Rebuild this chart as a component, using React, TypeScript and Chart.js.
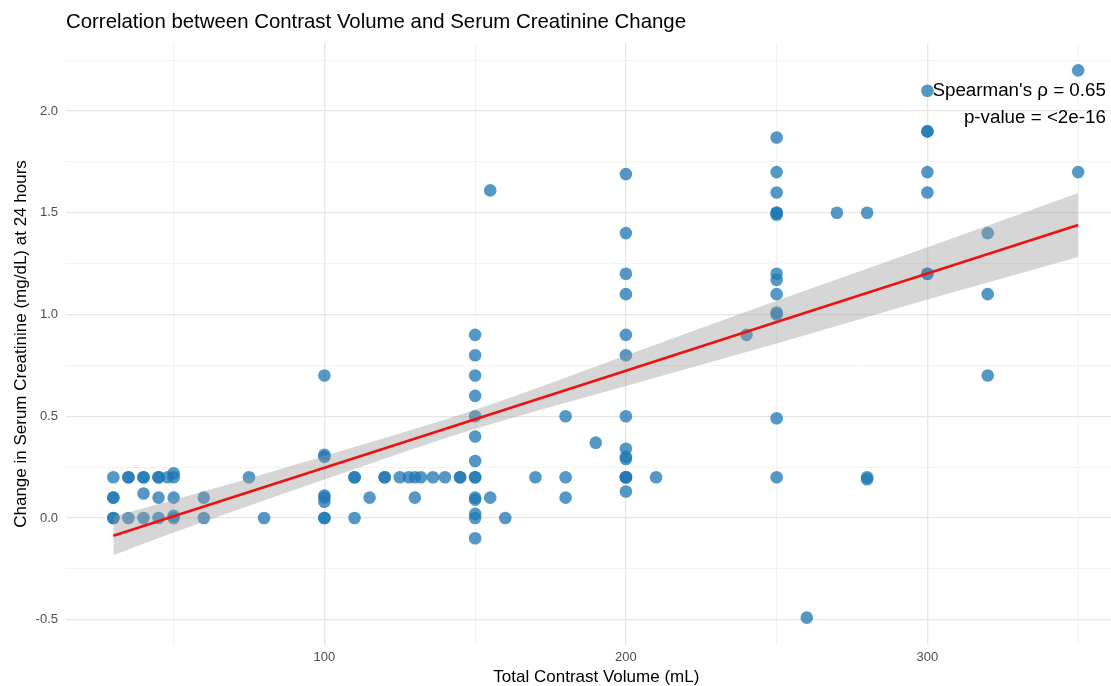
import React, { useEffect, useRef } from "react";
import { Chart, registerables } from "chart.js";

Chart.register(...registerables);

const titleText = "Correlation between Contrast Volume and Serum Creatinine Change";
const xAxisTitle = "Total Contrast Volume (mL)";
const yAxisTitle = "Change in Serum Creatinine (mg/dL) at 24 hours";

const contrastVolume = [
  30, 30, 30, 30, 30,
  35, 35, 35,
  40, 40, 40, 40,
  45, 45, 45, 45,
  48,
  50, 50, 50, 50, 50,
  60, 60,
  75,
  80,
  100, 100, 100, 100, 100, 100, 100, 100,
  110, 110, 110,
  115,
  120, 120,
  125,
  128,
  130, 130,
  132,
  136,
  140,
  145, 145,
  150, 150, 150, 150, 150, 150, 150, 150, 150, 150, 150, 150, 150, 150,
  155, 155,
  160,
  170,
  180, 180, 180,
  190,
  200, 200, 200, 200, 200, 200, 200, 200, 200, 200, 200, 200, 200, 200,
  210,
  240,
  250, 250, 250, 250, 250, 250, 250, 250, 250, 250, 250, 250, 250,
  260,
  270,
  280, 280, 280,
  300, 300, 300, 300, 300, 300, 300,
  320, 320, 320,
  350, 350,
];

const creatinineChange = [
  0.2, 0.1, 0.1, 0.0, 0.0,
  0.2, 0.2, 0.0,
  0.2, 0.2, 0.12, 0.0,
  0.2, 0.2, 0.1, 0.0,
  0.2,
  0.22, 0.2, 0.1, 0.01, 0.0,
  0.1, 0.0,
  0.2,
  0.0,
  0.7, 0.31, 0.3, 0.11, 0.1, 0.08, 0.0, 0.0,
  0.2, 0.2, 0.0,
  0.1,
  0.2, 0.2,
  0.2,
  0.2,
  0.2, 0.1,
  0.2,
  0.2,
  0.2,
  0.2, 0.2,
  0.9, 0.8, 0.7, 0.6, 0.5, 0.4, 0.28, 0.2, 0.2, 0.1, 0.09, 0.02, 0.0, -0.1,
  1.61, 0.1,
  0.0,
  0.2,
  0.5, 0.2, 0.1,
  0.37,
  1.69, 1.4, 1.2, 1.1, 0.9, 0.8, 0.5, 0.34, 0.3, 0.29, 0.2, 0.2, 0.2, 0.13,
  0.2,
  0.9,
  1.87, 1.7, 1.6, 1.5, 1.5, 1.49, 1.2, 1.17, 1.1, 1.01, 1.0, 0.49, 0.2,
  -0.49,
  1.5,
  1.5, 0.2, 0.19,
  2.1, 1.9, 1.9, 1.7, 1.6, 1.2, 1.2,
  1.4, 1.1, 0.7,
  2.2, 1.7,
];

const fitVolume = [30, 50, 100, 150, 200, 250, 300, 350];
const fitValue = [-0.088, 0.008, 0.247, 0.485, 0.724, 0.963, 1.202, 1.44];
const bandUpper = [0.007, 0.088, 0.305, 0.532, 0.799, 1.068, 1.33, 1.597];
const bandLower = [-0.183, -0.072, 0.189, 0.438, 0.649, 0.858, 1.074, 1.283];

const xTickValues = [50, 100, 150, 200, 250, 300, 350];
const xTickLabels = ["", "100", "", "200", "", "300", ""];
const yTickValues = [-0.5, -0.25, 0, 0.25, 0.5, 0.75, 1, 1.25, 1.5, 1.75, 2, 2.25];
const yTickLabels = ["-0.5", "", "0.0", "", "0.5", "", "1.0", "", "1.5", "", "2.0", ""];

const annotationLines = ["Spearman's \u03c1 = 0.65", "p-value = <2e-16"];
const annotationX = 359.2;
const annotationY = [2.098, 1.966];

const X_MIN = 14.3;
const X_MAX = 366.1;
const Y_MIN = -0.6245;
const Y_MAX = 2.3345;

const FONT = '"Liberation Sans", Arial, Helvetica, sans-serif';

const textPlugin = {
  id: "textPlugin",
  afterDraw(chart: any) {
    const { ctx, scales } = chart;
    const xs = scales.x;
    const ys = scales.y;
    ctx.save();
    ctx.fillStyle = "#000000";
    ctx.textBaseline = "middle";
    ctx.textAlign = "left";
    ctx.font = `20.4px ${FONT}`;
    ctx.fillText(titleText, chart.chartArea.left, 22);
    ctx.font = `18.8px ${FONT}`;
    ctx.textAlign = "right";
    annotationLines.forEach((t, i) => {
      ctx.fillText(t, xs.getPixelForValue(annotationX), ys.getPixelForValue(annotationY[i]));
    });
    ctx.restore();
  },
};

function isMajor(v: number, step: number) {
  const r = v / step;
  return Math.abs(r - Math.round(r)) < 1e-6;
}

export default function App() {
  const canvasRef = useRef<HTMLCanvasElement | null>(null);

  useEffect(() => {
    document.body.style.margin = "0";
    const canvas = canvasRef.current;
    if (!canvas) return;
    const points = contrastVolume.map((v, i) => ({ x: v, y: creatinineChange[i] }));
    const fit = fitVolume.map((v, i) => ({ x: v, y: fitValue[i] }));
    const upper = fitVolume.map((v, i) => ({ x: v, y: bandUpper[i] }));
    const lower = fitVolume.map((v, i) => ({ x: v, y: bandLower[i] }));

    const chart = new Chart(canvas, {
      type: "line",
      data: {
        datasets: [
          {
            label: "fit",
            data: fit,
            borderColor: "#ee1111",
            borderWidth: 2.6,
            pointRadius: 0,
            fill: false,
            tension: 0,
            order: 0,
          },
          {
            label: "upper",
            data: upper,
            borderWidth: 0,
            borderColor: "rgba(0,0,0,0)",
            pointRadius: 0,
            fill: "+1",
            backgroundColor: "rgba(153,153,153,0.4)",
            tension: 0.4,
            cubicInterpolationMode: "monotone",
            order: 1,
          },
          {
            label: "lower",
            data: lower,
            borderWidth: 0,
            borderColor: "rgba(0,0,0,0)",
            pointRadius: 0,
            fill: false,
            tension: 0.4,
            cubicInterpolationMode: "monotone",
            order: 1,
          },
          {
            label: "points",
            data: points,
            showLine: false,
            pointRadius: 6.3,
            pointBorderWidth: 0,
            pointBackgroundColor: "rgba(31,119,180,0.76)",
            pointBorderColor: "rgba(31,119,180,0.76)",
            order: 2,
          },
        ],
      } as any,
      options: {
        animation: false,
        responsive: false,
        maintainAspectRatio: false,
        devicePixelRatio: 1,
        layout: { padding: { top: 43, left: 0, right: 0, bottom: 0 } },
        plugins: {
          legend: { display: false },
          tooltip: { enabled: false },
          title: { display: false },
        },
        elements: { point: { hoverRadius: 6.3 } },
        scales: {
          x: {
            type: "linear",
            min: X_MIN,
            max: X_MAX,
            afterBuildTicks: (s: any) => {
              s.ticks = xTickValues.map((v) => ({ value: v }));
            },
            afterFit: (s: any) => {
              s.height = 41;
              s.paddingLeft = 0;
              s.paddingRight = 0;
            },
            grid: {
              drawTicks: false,
              color: (c: any) => (isMajor(c.tick?.value ?? 0, 100) ? "#e6e6e6" : "#efefef"),
              lineWidth: (c: any) => (isMajor(c.tick?.value ?? 0, 100) ? 1.3 : 0.8),
            },
            border: { display: false },
            ticks: {
              padding: 5,
              color: "#4d4d4d",
              font: { family: FONT, size: 13 },
              autoSkip: false,
              maxRotation: 0,
              callback: (v: any) => {
                const i = xTickValues.indexOf(Number(v));
                return i >= 0 ? xTickLabels[i] : "";
              },
            },
            title: {
              display: true,
              text: xAxisTitle,
              color: "#000000",
              font: { family: FONT, size: 17, lineHeight: 1.0 },
              padding: { top: 0, bottom: 0 },
            },
          },
          y: {
            type: "linear",
            min: Y_MIN,
            max: Y_MAX,
            afterBuildTicks: (s: any) => {
              s.ticks = yTickValues.map((v) => ({ value: v }));
            },
            afterFit: (s: any) => {
              s.width = 66;
              s.paddingTop = 0;
              s.paddingBottom = 0;
            },
            grid: {
              drawTicks: false,
              color: (c: any) => (isMajor(c.tick?.value ?? 0, 0.5) ? "#e6e6e6" : "#efefef"),
              lineWidth: (c: any) => (isMajor(c.tick?.value ?? 0, 0.5) ? 1.3 : 0.8),
            },
            border: { display: false },
            ticks: {
              padding: 8,
              color: "#4d4d4d",
              font: { family: FONT, size: 13 },
              autoSkip: false,
              callback: (v: any) => {
                const i = yTickValues.findIndex((t) => Math.abs(t - Number(v)) < 1e-6);
                return i >= 0 ? yTickLabels[i] : "";
              },
            },
            title: {
              display: true,
              text: yAxisTitle,
              color: "#000000",
              font: { family: FONT, size: 17, lineHeight: 1.0 },
              padding: { top: 13, bottom: 0 },
            },
          },
        },
      } as any,
      plugins: [textPlugin],
    });
    return () => chart.destroy();
  }, []);

  return (
    <div style={{ width: 1111, height: 686, overflow: "hidden", position: "relative", background: "#ffffff" }}>
      <canvas ref={canvasRef} width={1133} height={686} style={{ display: "block", width: 1133, height: 686 }} />
    </div>
  );
}
